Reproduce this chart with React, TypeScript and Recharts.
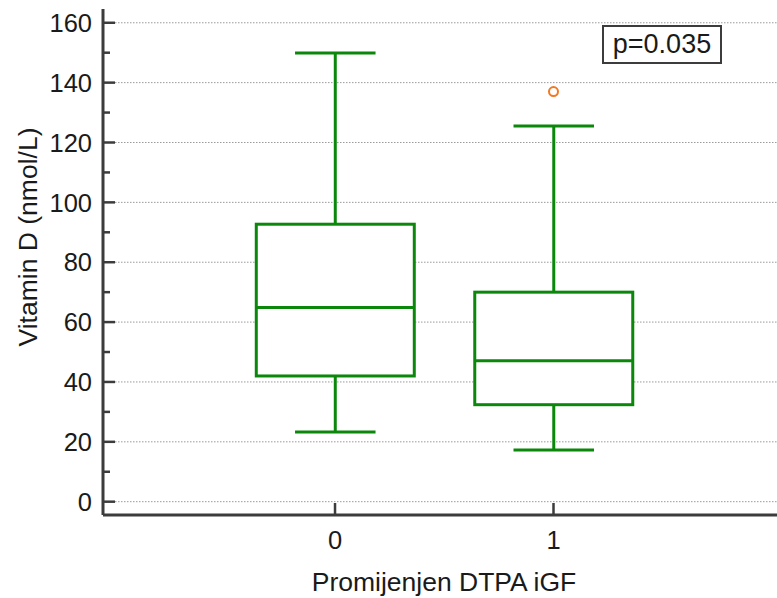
import { ComposedChart, Bar, Scatter, XAxis, YAxis, CartesianGrid, Label } from "recharts"

const groups = ["0", "1"]
const groupX = [0, 1]
const whiskerLow = [23.3, 17.3]
const quartile1 = [42, 32.4]
const median = [64.9, 47.1]
const quartile3 = [92.7, 70]
const whiskerHigh = [149.9, 125.5]

const outlierX = [1]
const outlierY = [137]

const yTicks = [0, 10, 20, 30, 40, 50, 60, 70, 80, 90, 100, 110, 120, 130, 140, 150, 160]
const yMajor = [0, 20, 40, 60, 80, 100, 120, 140, 160]

const font = "'Liberation Sans', Arial, sans-serif"
const green = "#0b880b"
const axisColor = "#3c3c3c"

const boxData = groupX.map((x, i) => ({
  x,
  label: groups[i],
  range: [whiskerLow[i], whiskerHigh[i]],
  low: whiskerLow[i],
  q1: quartile1[i],
  med: median[i],
  q3: quartile3[i],
  high: whiskerHigh[i],
}))

const outliers = outlierX.map((x, i) => ({ x, y: outlierY[i] }))

function BoxShape(props: any) {
  const { x, y, width, height, payload } = props
  const { low, q1, med, q3, high } = payload
  const k = height / (high - low)
  const py = (v: number) => y + (high - v) * k
  const cx = x + width / 2
  const cap = width / 4
  return (
    <g stroke={green} strokeWidth={3} fill="none">
      <line x1={cx} x2={cx} y1={py(high)} y2={py(q3)} />
      <line x1={cx} x2={cx} y1={py(q1)} y2={py(low)} />
      <line x1={cx - cap} x2={cx + cap} y1={py(high)} y2={py(high)} />
      <line x1={cx - cap} x2={cx + cap} y1={py(low)} y2={py(low)} />
      <rect x={x + 1.5} y={py(q3)} width={width - 3} height={py(q1) - py(q3)} fill="#fff" />
      <line x1={x + 1.5} x2={x + width - 1.5} y1={py(med)} y2={py(med)} />
    </g>
  )
}

function YTick(props: any) {
  const { x, y, payload } = props
  const major = payload.value % 20 === 0
  return (
    <g>
      <line x1={x} x2={x + (major ? 12 : 7)} y1={y} y2={y} stroke={axisColor} strokeWidth={2.5} />
      {major && (
        <text x={x - 11} y={y} dy="0.36em" textAnchor="end" fontSize={25.5} fontFamily={font} fill="#1a1a1a">
          {payload.value}
        </text>
      )}
    </g>
  )
}

function XTick(props: any) {
  const { x, y, payload } = props
  const i = groupX.indexOf(payload.value)
  return (
    <g>
      <line x1={x} x2={x} y1={y} y2={y - 12} stroke={axisColor} strokeWidth={2.5} />
      <text x={x} y={y + 34} textAnchor="middle" fontSize={25.5} fontFamily={font} fill="#1a1a1a">
        {groups[i]}
      </text>
    </g>
  )
}

export default function App() {
  return (
    <div style={{ position: "absolute", left: 0, top: 0, width: 777, height: 598, background: "#fff" }}>
      <ComposedChart width={777} height={598} data={boxData} margin={{ top: 9, right: 0, left: 0, bottom: 0 }}>
        <CartesianGrid
          vertical={false}
          horizontalValues={yMajor}
          stroke="#9a9a9a"
          strokeDasharray="1.5 1.5"
        />
        <XAxis
          dataKey="x"
          type="number"
          domain={[-1.062, 2.023]}
          ticks={groupX}
          allowDataOverflow
          height={83}
          tickSize={0}
          tickMargin={0}
          tick={<XTick />}
          axisLine={{ stroke: axisColor, strokeWidth: 3 }}
        >
          <Label
            content={(p: any) => {
              const vb = p.viewBox
              return (
                <text x={vb.x + vb.width / 2 + 4} y={vb.y + 76} textAnchor="middle" fontSize={26.5} fontFamily={font} fill="#1a1a1a">
                  Promijenjen DTPA iGF
                </text>
              )
            }}
          />
        </XAxis>
        <YAxis
          type="number"
          domain={[-4.45, 164.6]}
          ticks={yTicks}
          interval={0}
          allowDataOverflow
          width={103}
          tickSize={0}
          tickMargin={0}
          tick={<YTick />}
          axisLine={{ stroke: axisColor, strokeWidth: 3 }}
        >
          <Label
            content={(p: any) => {
              const vb = p.viewBox
              const cy = vb.y + vb.height / 2 - 25
              return (
                <text
                  x={27}
                  y={cy}
                  dy="0.36em"
                  transform={`rotate(-90, 27, ${cy})`}
                  textAnchor="middle"
                  fontSize={26.5}
                  fontFamily={font}
                  fill="#1a1a1a"
                >
                  Vitamin D (nmol/L)
                </text>
              )
            }}
          />
        </YAxis>
        <Bar dataKey="range" barSize={161} shape={<BoxShape />} isAnimationActive={false} />
        <Scatter
          data={outliers}
          dataKey="y"
          isAnimationActive={false}
          shape={(p: any) => <circle cx={p.cx} cy={p.cy} r={4.5} stroke="#f5781e" strokeWidth={2} fill="#fff" />}
        />
      </ComposedChart>
      <div
        style={{
          position: "absolute",
          left: 602,
          top: 25,
          width: 120,
          height: 39,
          boxSizing: "border-box",
          border: `2px solid ${axisColor}`,
          background: "#fff",
          fontFamily: font,
          fontSize: 27,
          lineHeight: "35px",
          textAlign: "center",
          color: "#1a1a1a",
        }}
      >
        p=0.035
      </div>
    </div>
  )
}
